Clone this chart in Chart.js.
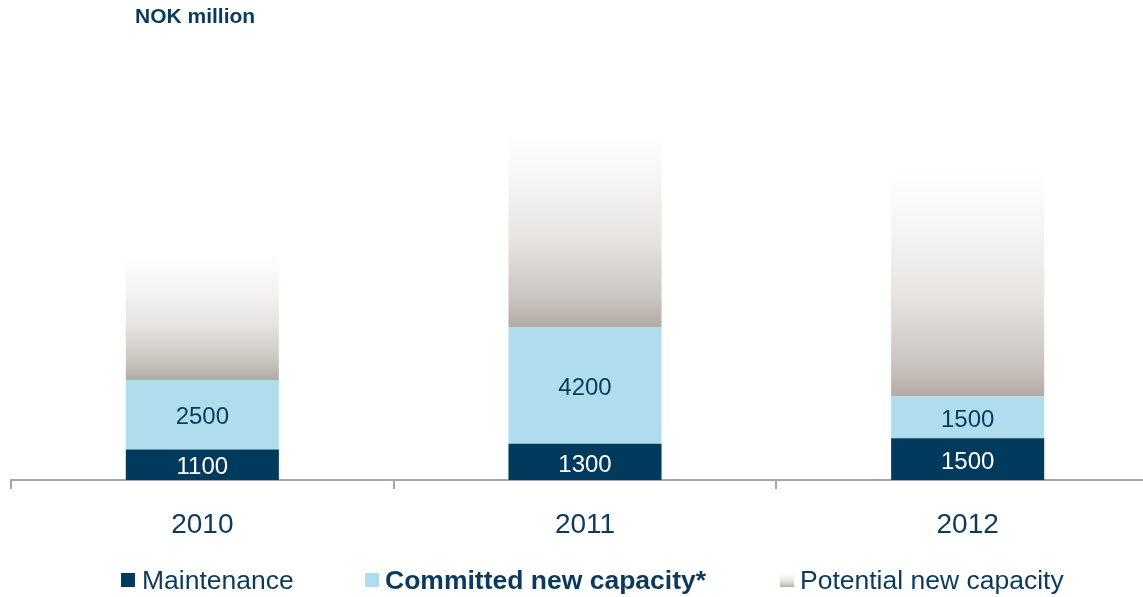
<!DOCTYPE html>
<html lang="en">
<head>
<meta charset="UTF-8">
<title>NOK million</title>
<script src="https://cdn.jsdelivr.net/npm/chart.js"></script>
<style>
  html, body { margin: 0; padding: 0; background: #fff; overflow: hidden; }
  #wrap { position: relative; width: 1160px; height: 597px; }
</style>
</head>
<body>
<div id="wrap"><canvas id="capex" width="1160" height="597"></canvas></div>
<script>
const years = ['2010', '2011', '2012'];
const maintenance = [1100, 1300, 1500];
const committed = [2500, 4200, 1500];
const potential = [4500, 7000, 8100];
const seriesNames = ['Maintenance', 'Committed new capacity*', 'Potential new capacity'];

const FONT = '"Liberation Sans", Arial, sans-serif';
const TEXT = '#0b3a5c';
const NAVY = '#003a5d';
const LIGHT = '#b0ddee';
const AXIS = '#a2a6ad';

function fadeGradient(c, yBottom, yTop) {
  const g = c.createLinearGradient(0, yBottom, 0, yTop);
  g.addColorStop(0, '#b3aaa4');
  g.addColorStop(0.15, '#cbc5c0');
  g.addColorStop(0.45, '#e7e4e1');
  g.addColorStop(0.75, '#f6f5f4');
  g.addColorStop(1, '#ffffff');
  return g;
}

function potentialFill(ctx) {
  const chart = ctx.chart;
  const y = chart.scales && chart.scales.y;
  if (!chart.chartArea || !y || ctx.dataIndex === undefined) return '#d8d3cf';
  const i = ctx.dataIndex;
  const base = maintenance[i] + committed[i];
  const yBottom = y.getPixelForValue(base);
  const yTop = y.getPixelForValue(base + potential[i]);
  if (!isFinite(yBottom) || !isFinite(yTop)) return '#d8d3cf';
  return fadeGradient(chart.ctx, yBottom, yTop);
}

// value labels inside the two lower segments
const segmentLabels = {
  id: 'segmentLabels',
  afterDatasetsDraw(chart) {
    const c = chart.ctx;
    c.save();
    c.font = '24px ' + FONT;
    c.textAlign = 'center';
    c.textBaseline = 'middle';
    [0, 1].forEach(d => {
      const meta = chart.getDatasetMeta(d);
      c.fillStyle = d === 0 ? '#ffffff' : TEXT;
      meta.data.forEach((el, i) => {
        const v = chart.data.datasets[d].data[i];
        c.fillText(String(v), el.x, (el.y + el.base) / 2 + 3);
      });
    });
    c.restore();
  }
};

// unit caption and legend row
const extras = {
  id: 'extras',
  afterDraw(chart) {
    const c = chart.ctx;
    c.save();
    c.fillStyle = TEXT;
    c.font = 'bold 21px ' + FONT;
    c.textAlign = 'left';
    c.textBaseline = 'middle';
    c.fillText('NOK million', 135, 17);

    const items = [
      { marker: 121, text: 142, bold: false },
      { marker: 365, text: 385, bold: true },
      { marker: 780, text: 800, bold: false }
    ];
    items.forEach((it, d) => {
      if (d === 2) {
        c.fillStyle = fadeGradient(c, 587, 573);
      } else {
        c.fillStyle = d === 0 ? NAVY : LIGHT;
      }
      c.fillRect(it.marker, 573, 14, 14);
      c.fillStyle = TEXT;
      c.font = (it.bold ? 'bold ' : '') + '26.5px ' + FONT;
      c.fillText(chart.data.datasets[d].label, it.text, 582);
    });
    c.restore();
  }
};

new Chart(document.getElementById('capex'), {
  type: 'bar',
  data: {
    labels: years,
    datasets: [
      { label: seriesNames[0], data: maintenance, backgroundColor: NAVY },
      { label: seriesNames[1], data: committed, backgroundColor: LIGHT },
      { label: seriesNames[2], data: potential, backgroundColor: potentialFill }
    ]
  },
  options: {
    responsive: false,
    animation: false,
    categoryPercentage: 0.8,
    barPercentage: 0.5,
    layout: { padding: { top: 35, left: 11, right: 1, bottom: 0 } },
    plugins: {
      legend: { display: false },
      tooltip: { enabled: false }
    },
    scales: {
      x: {
        stacked: true,
        grid: { display: true, drawOnChartArea: false, drawTicks: true, tickLength: 9, color: AXIS, lineWidth: 2, offset: true },
        border: { display: true, color: AXIS, width: 2 },
        ticks: { color: TEXT, font: { size: 28, family: FONT }, padding: 19 },
        afterFit(scale) { scale.height = 117; }
      },
      y: { stacked: true, display: false, min: 0, max: 16000 }
    }
  },
  plugins: [segmentLabels, extras]
});
</script>
</body>
</html>
